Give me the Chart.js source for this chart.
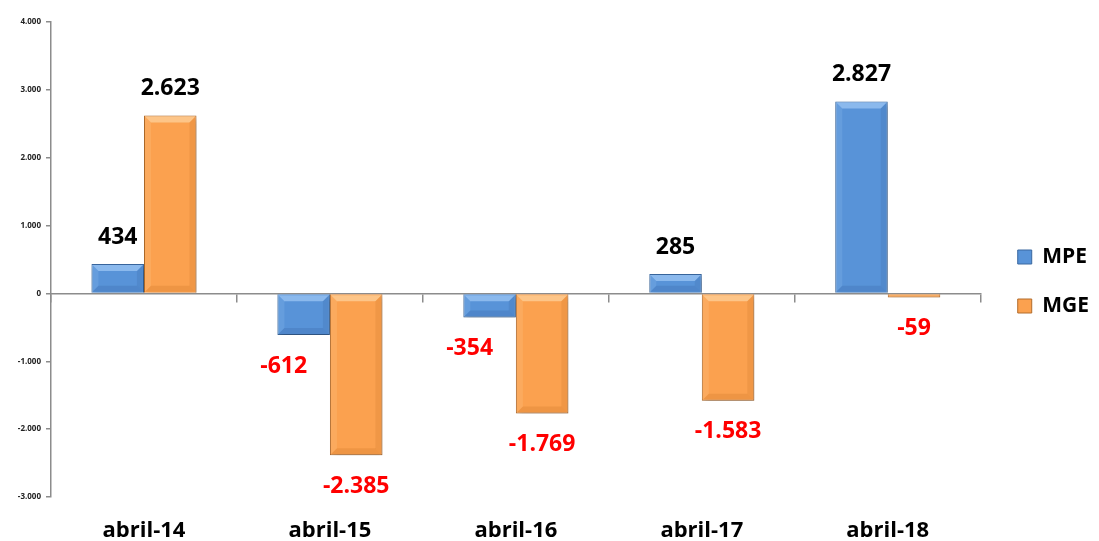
<!DOCTYPE html>
<html>
<head>
<meta charset="utf-8">
<script src="https://cdn.jsdelivr.net/npm/chart.js@4/dist/chart.umd.min.js"></script>
<style>
    body { margin: 0; background: #fff; }
    #wrap { width: 1099px; height: 541px; position: relative; }
</style>
</head>
<body>
<div id="wrap"><canvas id="chart"></canvas></div>
<script>
const categories = ['abril-14', 'abril-15', 'abril-16', 'abril-17', 'abril-18'];
const seriesNames = ['MPE', 'MGE'];
const mpeValues = [434, -612, -354, 285, 2827];
const mgeValues = [2623, -2385, -1769, -1583, -59];
const yTicks = [-3000, -2000, -1000, 0, 1000, 2000, 3000, 4000];

const palette = [
    { fill: '#5893D8', light: '#9CC6F4', dark: '#3A6BA8', border: '#3A68A0' },
    { fill: '#FBA14F', light: '#FED29B', dark: '#D07A2C', border: '#B36C2C' }
];

const fmt = v => {
    const s = Math.abs(v).toString().replace(/\B(?=(\d{3})+(?!\d))/g, '.');
    return (v < 0 ? '-' : '') + s;
};

const barFx = {
    id: 'barFx',
    beforeDatasetsDraw(chart) {
        const ctx = chart.ctx;
        ctx.save();
        ctx.shadowColor = 'rgba(0,0,0,0.25)';
        ctx.shadowBlur = 6;
        ctx.shadowOffsetX = 2;
        ctx.shadowOffsetY = 3;
    },
    afterDatasetsDraw(chart) {
        const ctx = chart.ctx;
        ctx.restore();
        chart.data.datasets.forEach((ds, di) => {
            const meta = chart.getDatasetMeta(di);
            const col = palette[di];
            meta.data.forEach((el, i) => {
                const left = el.x - el.width / 2 + 1;
                const right = el.x + el.width / 2 - 1;
                const top = Math.min(el.y, el.base) + 1;
                const bottom = Math.max(el.y, el.base) - 1;
                const b = Math.max(0, Math.min(6, (bottom - top) / 2));
                if (b > 0) {
                    ctx.save();
                    ctx.globalAlpha = 0.75;
                    ctx.fillStyle = col.light;
                    ctx.beginPath();
                    ctx.moveTo(left, top); ctx.lineTo(right, top);
                    ctx.lineTo(right - b, top + b); ctx.lineTo(left + b, top + b);
                    ctx.closePath(); ctx.fill();
                    ctx.globalAlpha = 0.2;
                    ctx.beginPath();
                    ctx.moveTo(left, top); ctx.lineTo(left + b, top + b);
                    ctx.lineTo(left + b, bottom - b); ctx.lineTo(left, bottom);
                    ctx.closePath(); ctx.fill();
                    ctx.fillStyle = col.dark;
                    ctx.globalAlpha = 0.25;
                    ctx.beginPath();
                    ctx.moveTo(right, top); ctx.lineTo(right - b, top + b);
                    ctx.lineTo(right - b, bottom - b); ctx.lineTo(right, bottom);
                    ctx.closePath(); ctx.fill();
                    ctx.globalAlpha = 0.3;
                    ctx.beginPath();
                    ctx.moveTo(left, bottom); ctx.lineTo(right, bottom);
                    ctx.lineTo(right - b, bottom - b); ctx.lineTo(left + b, bottom - b);
                    ctx.closePath(); ctx.fill();
                    ctx.restore();
                }

                // value label
                const v = ds.data[i];
                ctx.save();
                ctx.font = 'bold 23px "Open Sans", sans-serif';
                ctx.textAlign = 'center';
                ctx.textBaseline = 'middle';
                if (v >= 0) {
                    ctx.fillStyle = '#000';
                    ctx.fillText(fmt(v), el.x, el.y - 27);
                } else {
                    ctx.fillStyle = '#FF0000';
                    const dx = di === 0 ? -20 : 0;
                    ctx.fillText(fmt(v), el.x + dx, el.y + 31);
                }
                ctx.restore();
            });
        });
    }
};

const ctx = document.getElementById('chart').getContext('2d');
new Chart(ctx, {
    type: 'bar',
    data: {
        labels: categories,
        datasets: [
            {
                label: seriesNames[0],
                data: mpeValues,
                backgroundColor: palette[0].fill,
                borderColor: palette[0].border,
                borderWidth: 1,
                barPercentage: 1,
                categoryPercentage: 0.565
            },
            {
                label: seriesNames[1],
                data: mgeValues,
                backgroundColor: palette[1].fill,
                borderColor: palette[1].border,
                borderWidth: 1,
                barPercentage: 1,
                categoryPercentage: 0.565
            }
        ]
    },
    options: {
        responsive: true,
        maintainAspectRatio: false,
        animation: false,
        layout: { padding: { top: 22, left: 0, right: 0, bottom: 0 } },
        plugins: {
            tooltip: { enabled: false },
            legend: {
                position: 'right',
                labels: {
                    boxWidth: 14,
                    boxHeight: 14,
                    padding: 28,
                    color: '#000',
                    font: { family: '"Open Sans", sans-serif', size: 21, weight: 'bold' }
                }
            }
        },
        scales: {
            x: {
                position: 'bottom',
                grid: { display: false, drawTicks: false },
                border: { display: false },
                ticks: {
                    padding: 21,
                    color: '#000',
                    font: { family: '"Open Sans", sans-serif', size: 22, weight: 'bold' }
                },
                afterFit: s => { s.height = 44; }
            },
            x2: {
                type: 'category',
                position: { y: 0 },
                offset: true,
                grid: { offset: true, drawOnChartArea: false, drawTicks: true, tickLength: 8, color: '#8c8c8c', lineWidth: 1.5 },
                border: { display: true, color: '#8c8c8c', width: 1.5 },
                ticks: { display: false }
            },
            y: {
                min: -3000,
                max: 4000,
                afterBuildTicks: s => { s.ticks = yTicks.map(v => ({ value: v })); },
                grid: { drawOnChartArea: false, drawTicks: true, tickLength: 5, color: '#8c8c8c', lineWidth: 1.5 },
                border: { display: true, color: '#8c8c8c', width: 1.5 },
                ticks: {
                    padding: 5,
                    color: '#222',
                    font: { family: '"Open Sans", sans-serif', size: 8, weight: 'bold' },
                    callback: v => fmt(v)
                },
                afterFit: s => { s.width = 51; }
            },
            yPad: {
                type: 'linear',
                position: 'right',
                grid: { display: false },
                border: { display: false },
                ticks: { display: false },
                afterFit: s => { s.width = 9; }
            }
        }
    },
    plugins: [barFx]
});
</script>
</body>
</html>
